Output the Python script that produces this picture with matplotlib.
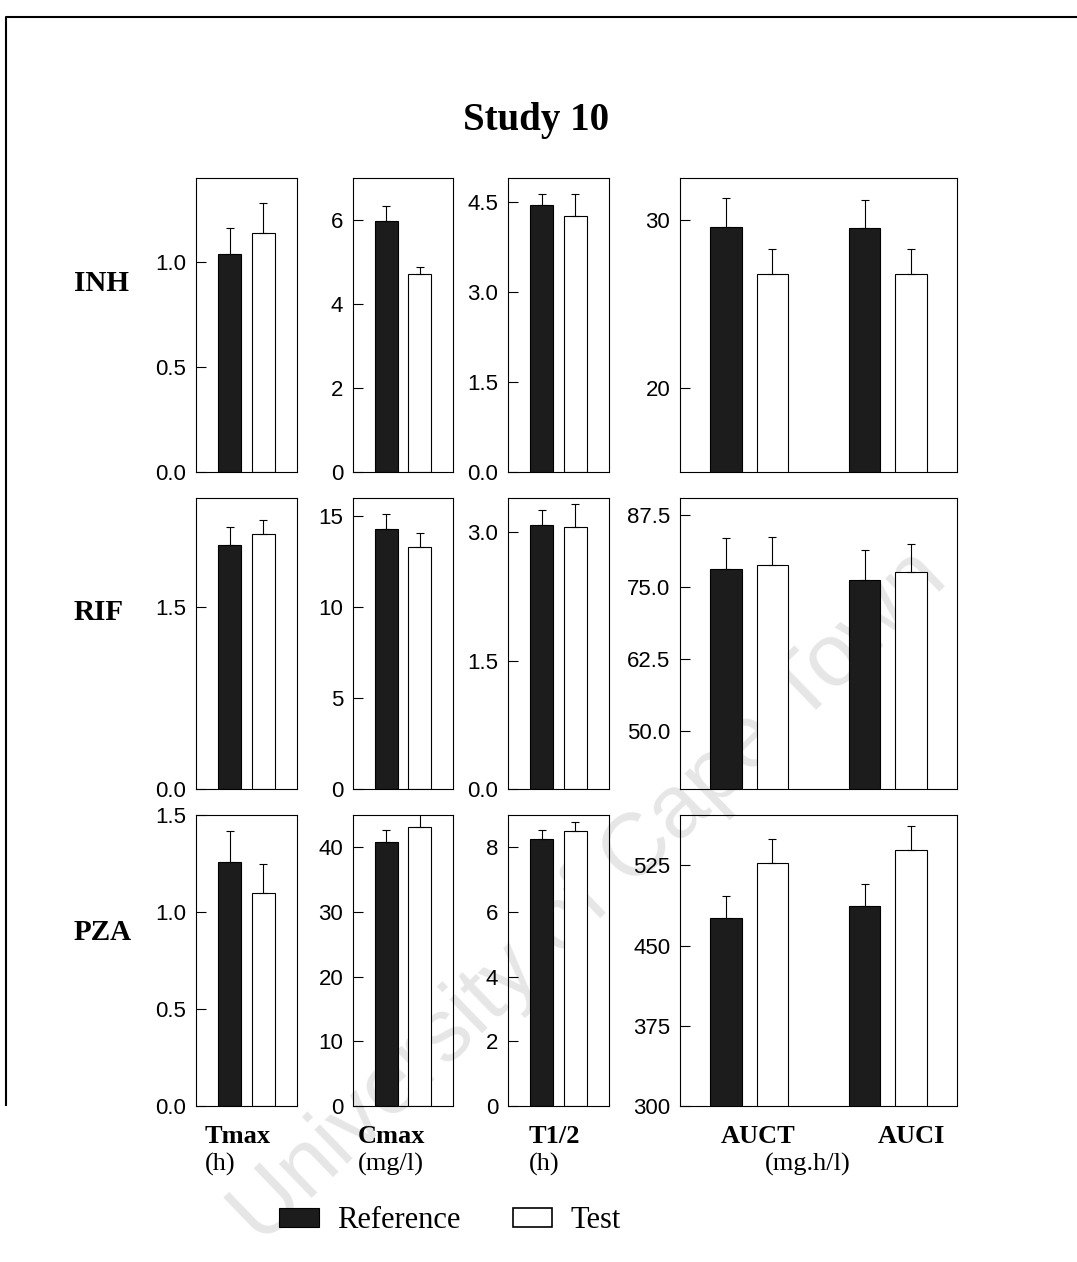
import matplotlib
matplotlib.use("Agg")
from matplotlib import pyplot as plt
from matplotlib.lines import Line2D
from matplotlib.patches import Patch
from matplotlib.ticker import FormatStrFormatter
import numpy as np


# mean values per drug, ordered Tmax, Cmax, T1/2, AUCT, AUCI
DRUGS = ["INH", "RIF", "PZA"]
INH_REF = [1.04, 5.98, 4.45, 29.6, 29.5]
INH_REF_SD = [0.12, 0.35, 0.19, 1.7, 1.7]
INH_TEST = [1.14, 4.71, 4.27, 26.8, 26.8]
INH_TEST_SD = [0.14, 0.18, 0.37, 1.45, 1.5]

RIF_REF = [2.01, 14.3, 3.09, 78.2, 76.2]
RIF_REF_SD = [0.15, 0.8, 0.17, 5.3, 5.3]
RIF_TEST = [2.10, 13.3, 3.06, 78.8, 77.6]
RIF_TEST_SD = [0.12, 0.8, 0.27, 4.9, 4.9]

PZA_REF = [1.26, 40.9, 8.26, 475.6, 486.8]
PZA_REF_SD = [0.16, 1.8, 0.28, 20.5, 20.5]
PZA_TEST = [1.10, 43.1, 8.49, 527.2, 539.6]
PZA_TEST_SD = [0.15, 2.0, 0.28, 22.0, 22.0]

PARAM_LABELS = ["Tmax", "Cmax", "T1/2", "AUCT", "AUCI"]
PARAM_UNITS = ["(h)", "(mg/l)", "(h)", "(mg.h/l)"]

# axis ranges and ticks, one row per drug, one entry per panel
YLIMS = [
    [(0, 1.4), (0, 7), (0, 4.9), (15, 32.5)],
    [(0, 2.4), (0, 16), (0, 3.4), (40, 90.5)],
    [(0, 1.5), (0, 45), (0, 9), (300, 572)],
]
YTICKS = [
    [[0, 0.5, 1.0], [0, 2, 4, 6], [0, 1.5, 3.0, 4.5], [20, 30]],
    [[0, 1.5], [0, 5, 10, 15], [0, 1.5, 3.0], [50, 62.5, 75, 87.5]],
    [[0, 0.5, 1.0, 1.5], [0, 10, 20, 30, 40], [0, 2, 4, 6, 8], [300, 375, 450, 525]],
]
YFORMATS = [
    ["%.1f", "%d", "%.1f", "%d"],
    ["%.1f", "%d", "%.1f", "%.1f"],
    ["%.1f", "%d", "%d", "%d"],
]

W, H = 1077, 1262
COLS = [(196, 297), (353, 453), (508, 609), (680, 957)]
ROWS = [(178, 472), (498, 789), (815, 1106)]

SERIF = "Liberation Serif"
SANS = "Liberation Sans"
DARK = "#1c1c1c"
BAR_W = 0.68


def box(left, top, right, bottom):
    return [left / W, 1 - bottom / H, (right - left) / W, (bottom - top) / H]


def draw_bars(ax, xs, ref, ref_sd, test, test_sd):
    xs = np.asarray(xs)
    ax.bar(xs, ref, BAR_W, color=DARK, edgecolor="black", linewidth=0.8, zorder=2)
    ax.bar(xs + 1, test, BAR_W, color="white", edgecolor="black", linewidth=0.8, zorder=2)
    for x, v, e in zip(np.concatenate([xs, xs + 1]),
                       list(ref) + list(test), list(ref_sd) + list(test_sd)):
        ax.errorbar([x], [v], yerr=[[0], [e]], fmt="none", ecolor="black",
                    elinewidth=0.8, capsize=3, capthick=0.8, zorder=3)


def main():
    fig = plt.figure(figsize=(W / 100, H / 100), dpi=100)

    data = [
        (INH_REF, INH_REF_SD, INH_TEST, INH_TEST_SD),
        (RIF_REF, RIF_REF_SD, RIF_TEST, RIF_TEST_SD),
        (PZA_REF, PZA_REF_SD, PZA_TEST, PZA_TEST_SD),
    ]

    for r, (ref, ref_sd, test, test_sd) in enumerate(data):
        top, bottom = ROWS[r]
        for c, (left, right) in enumerate(COLS):
            ax = fig.add_axes(box(left, top, right, bottom))
            ax.set_facecolor("none")
            if c < 3:
                draw_bars(ax, [1], [ref[c]], [ref_sd[c]], [test[c]], [test_sd[c]])
                ax.set_xlim(0, 3)
            else:
                # AUCT and AUCI share the wide panel
                draw_bars(ax, [1, 4], ref[3:], ref_sd[3:], test[3:], test_sd[3:])
                ax.set_xlim(0, 6)
            ax.set_ylim(*YLIMS[r][c])
            ax.set_yticks(YTICKS[r][c])
            ax.yaxis.set_major_formatter(FormatStrFormatter(YFORMATS[r][c]))
            ax.set_xticks([])
            ax.tick_params(axis="y", direction="in", length=7, width=0.8,
                           labelsize=16, pad=7)
            for lbl in ax.get_yticklabels():
                lbl.set_family(SANS)
            for s in ax.spines.values():
                s.set_linewidth(0.8)

        fig.text(74 / W, 1 - [283, 612, 932][r] / H, DRUGS[r], ha="left",
                 va="center", fontsize=21, fontweight="bold", family=SERIF)

    fig.text(536 / W, 1 - 130 / H, "Study 10", ha="center", va="baseline",
             fontsize=28, fontweight="bold", family=SERIF)

    # parameter names under the bottom row
    name_x = [205, 358, 529, 721, 878]
    for x, name in zip(name_x, PARAM_LABELS):
        fig.text(x / W, 1 - 1143 / H, name, ha="left", va="baseline",
                 fontsize=19, fontweight="bold", family=SERIF)
    unit_x = [205, 358, 529, 765]
    for x, unit in zip(unit_x, PARAM_UNITS):
        fig.text(x / W, 1 - 1171 / H, unit, ha="left", va="baseline",
                 fontsize=19, family=SERIF)

    handles = [
        Patch(facecolor=DARK, edgecolor="black", linewidth=0.8),
        Patch(facecolor="white", edgecolor="black", linewidth=1.2),
    ]
    fig.legend(handles, ["Reference", "Test"], loc="center",
               bbox_to_anchor=(450 / W, 1 - 1221 / H), ncol=2, frameon=False,
               prop={"family": SERIF, "size": 22}, handlelength=1.3,
               handleheight=0.55, handletextpad=0.6, columnspacing=1.7)

    fig.text(590 / W, 1 - 898 / H, "University of Cape Town", rotation=44,
             ha="center", va="center", fontsize=64, color="#e6e6e6",
             family=SANS, zorder=-1)

    fig.add_artist(Line2D([6 / W, 6 / W, 1], [1 - 1105 / H, 1 - 17 / H, 1 - 17 / H],
                          transform=fig.transFigure, color="black", linewidth=1.5))

    fig.savefig("out.png", dpi=100, facecolor="white")


if __name__ == "__main__":
    main()
